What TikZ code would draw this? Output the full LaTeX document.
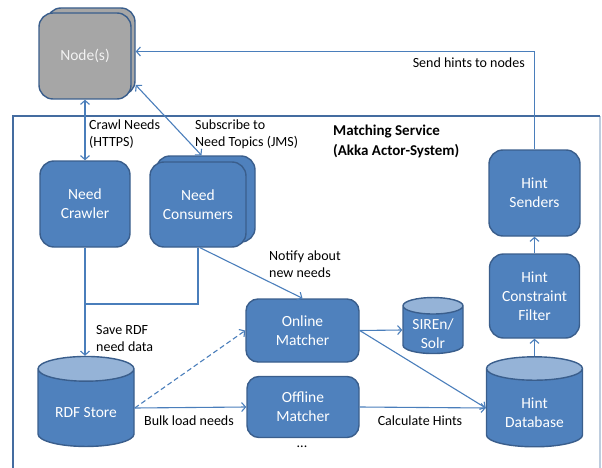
\documentclass[tikz,border=0pt]{standalone}
\usepackage{fontspec}
\setmainfont{Carlito}
\usetikzlibrary{arrows.meta, shapes.geometric}
\definecolor{boxfill}{RGB}{79,129,189}
\definecolor{boxline}{RGB}{58,94,140}
\definecolor{boxtop}{RGB}{149,179,215}
\definecolor{linecol}{RGB}{74,126,187}
\definecolor{nodegray}{RGB}{166,166,166}
\definecolor{framecol}{RGB}{68,108,160}
\definecolor{frameright}{RGB}{190,205,222}

\begin{document}
\begin{tikzpicture}[x=1pt, y=-1pt, >={Straight Barb[length=4pt,width=9pt]},
    box/.style={draw=boxline, line width=1.4pt, fill=boxfill, rounded corners=14pt, text=white, align=center, inner sep=0pt, font=\fontsize{15.5}{19}\selectfont},
    db/.style={cylinder, shape border rotate=90, aspect=0.4, draw=boxline, line width=1.4pt, cylinder uses custom fill, cylinder body fill=boxfill, cylinder end fill=boxtop, align=center, inner sep=0pt, font=\fontsize{15.5}{19}\selectfont},
    dbtext/.style={text=white, align=center, inner sep=0pt, font=\fontsize{15.5}{19}\selectfont},
    lbl/.style={align=left, anchor=west, inner sep=0pt, font=\fontsize{14}{17}\selectfont},
    conn/.style={draw=linecol, line width=1.1pt}]
    \useasboundingbox (0,0) rectangle (602,468);
    \draw[draw=frameright, line width=1.2pt] (600,116) -- (600,468);
    \draw[draw=framecol, line width=1.6pt] (600,116) -- (13,116) -- (13,468);

    \node[box, fill=nodegray, minimum width=88pt, minimum height=87pt] (nodesback) at (91,51.5) {};
    \node[box, fill=nodegray, text=white!95!black, minimum width=92pt, minimum height=86pt] (nodes) at (85,56) {Node(s)};
    \node[box, minimum width=90pt, minimum height=86pt] (crawler) at (85,204) {Need\\Crawler};
    \node[box, minimum width=99pt, minimum height=86pt] (consback) at (205.5,199) {};
    \node[box, minimum width=96pt, minimum height=85pt] (consumers) at (198,204.5) {Need\\Consumers};
    \node[box, minimum width=91pt, minimum height=86pt] (senders) at (534.5,193) {Hint\\Senders};
    \node[box, minimum width=90pt, minimum height=84pt] (filter) at (534.5,296) {Hint\\Constraint\\Filter};
    \node[box, rounded corners=12pt, minimum width=113pt, minimum height=63pt] (online) at (302.5,330.5) {Online\\Matcher};
    \node[box, rounded corners=12pt, minimum width=112pt, minimum height=61pt] (offline) at (303,407) {Offline\\Matcher};
    \node[db, minimum width=96pt, minimum height=90pt, label={[dbtext, yshift=-5pt]center:RDF Store}] (rdf) at (86,408) {\phantom{RDF Store}};
    \node[db, minimum width=96pt, minimum height=90pt, label={[dbtext, yshift=-4.5pt]center:Hint\\Database}] (hintdb) at (534.5,408) {\phantom{Hint}\\\phantom{Database}};
    \node[db, minimum width=60pt, minimum height=56pt, label={[dbtext, yshift=-4pt]center:SIREn/\\Solr}] (siren) at (433,330) {\phantom{SIREn/}\\\phantom{Solr}};

    \coordinate (join) at (85,304);
    \draw[conn, <->] (nodes.south) -- (crawler.north);
    \draw[conn, <->] ([yshift=-33.5pt]nodesback.east) -- ([xshift=-4pt]consback.north);
    \draw[conn, ->] (senders.north) |- (nodesback.east);
    \draw[conn, ->] (crawler.south) -- (crawler.south |- rdf.top);
    \draw[conn] (consumers.south) |- (join);
    \draw[conn, ->] ([xshift=2pt]consumers.south) -- (online.north);
    \draw[conn, ->, dash pattern=on 5pt off 3pt] (rdf.east) -- (online.west);
    \draw[conn, ->] (rdf.east) -- (offline.west);
    \draw[conn, ->] (online.east) -- (siren.west);
    \draw[conn, ->] (online.east) -- (hintdb.west);
    \draw[conn, ->] (offline.east) -- (hintdb.west);
    \draw[conn, ->] (hintdb.top) -- (filter.south);
    \draw[conn, ->] (filter.north) -- (senders.south);

    \node[lbl] (crawllbl) at (89,134.5) {Crawl Needs\\(HTTPS)};
    \node[lbl] (sublbl) at (195,134.5) {Subscribe to\\Need Topics (JMS)};
    \node[lbl, anchor=east] (sendlbl) at (525,63) {Send hints to nodes};
    \node[lbl, font=\fontsize{15}{20}\selectfont\bfseries] (title) at (333,141) {Matching Service\\(Akka Actor-System)};
    \node[lbl] (notifylbl) at (269,264.5) {Notify about\\new needs};
    \node[lbl] (savelbl) at (96,338.5) {Save RDF\\need data};
    \node[lbl, anchor=center] (bulklbl) at (189,421) {Bulk load needs};
    \node[lbl, anchor=center] (calclbl) at (420,421) {Calculate Hints};
    \node[lbl, anchor=center] (dots) at (302,447) {...};
\end{tikzpicture}
\end{document}
